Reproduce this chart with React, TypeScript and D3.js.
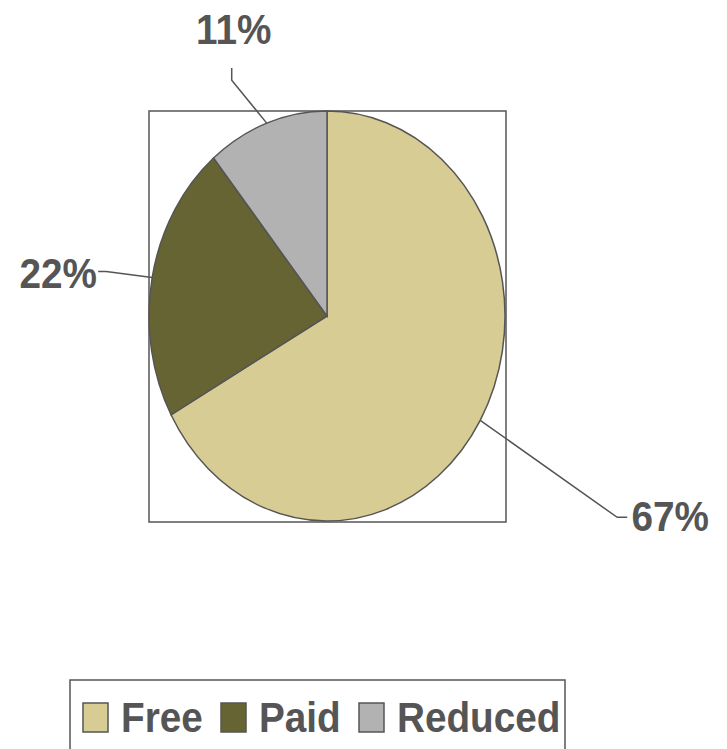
import React from "react";
import * as d3 from "d3";

const categories = ["Free", "Paid", "Reduced"];
const values = [67, 22, 11];
const colors = ["#D7CD94", "#666433", "#B2B2B2"];

const W = 727;
const H = 749;
const cx = 327;
const cy = 316;
const R = 205;
const SX = 178 / 205;
const TX = 0.9;
const TEXT = "#555555";
const FONT = "'Liberation Sans', Arial, sans-serif";

// leader layout per slice: [elbow dx, elbow dy, end dx, end dy, label dx, label dy, anchor]
const leaderLayout: Array<{ elbow: [number, number]; end: [number, number]; label: [number, number]; anchor: string }> = [
  { elbow: [137, 97], end: [147, 97], label: [190, 111], anchor: "middle" },
  { elbow: [-46, -6], end: [-54, -6], label: [-94, 10], anchor: "middle" },
  { elbow: [-35, -43], end: [-35, -55], label: [-33, -79], anchor: "middle" },
];

export default function App() {
  const pie = d3.pie<number>().sort(null).value((d) => d)(values);
  const arc = d3.arc<d3.PieArcDatum<number>>().innerRadius(0).outerRadius(R);
  const total = d3.sum(values);

  const legendX = d3.scalePoint<string>().domain(categories).range([83, 359]);

  return (
    <svg width={W} height={H} style={{ position: "absolute", left: 0, top: 0, background: "#fff" }}>
      <rect x={149} y={111} width={357} height={411} fill="none" stroke="#555" strokeWidth={1.5} />
      <g transform={`translate(${cx},${cy}) scale(${SX},1)`}>
        {pie.map((p, i) => (
          <path
            key={i}
            d={arc(p) || ""}
            fill={colors[i]}
            stroke="#555"
            strokeWidth={1.5}
            vectorEffect="non-scaling-stroke"
          />
        ))}
      </g>
      {pie.map((p, i) => {
        const mid = (p.startAngle + p.endAngle) / 2;
        const ax = cx + Math.sin(mid) * R * SX;
        const ay = cy - Math.cos(mid) * R;
        const L = leaderLayout[i];
        const ex = ax + L.elbow[0];
        const ey = ay + L.elbow[1];
        const fx = ax + L.end[0];
        const fy = ay + L.end[1];
        const lx = ax + L.label[0];
        const ly = ay + L.label[1];
        const pct = Math.round((values[i] / total) * 100) + "%";
        return (
          <g key={i}>
            <polyline
              points={`${ax},${ay} ${ex},${ey} ${fx},${fy}`}
              fill="none"
              stroke="#555"
              strokeWidth={1.5}
            />
            <text
              transform={`translate(${lx},${ly}) scale(${TX},1)`}
              textAnchor={L.anchor}
              fontFamily={FONT}
              fontWeight="bold"
              fontSize={43}
              fill={TEXT}
            >
              {pct}
            </text>
          </g>
        );
      })}
      <rect x={70} y={680} width={495} height={100} fill="#fff" stroke="#555" strokeWidth={1.5} />
      {categories.map((c, i) => {
        const x = [83, 221, 359][i];
        return (
          <g key={c}>
            <rect x={x} y={703} width={25} height={29} fill={colors[i]} stroke="#555" strokeWidth={1.5} />
            <text
              transform={`translate(${x + 38},732) scale(${TX},1)`}
              fontFamily={FONT}
              fontWeight="bold"
              fontSize={43}
              fill={TEXT}
            >
              {c}
            </text>
          </g>
        );
      })}
    </svg>
  );
}
